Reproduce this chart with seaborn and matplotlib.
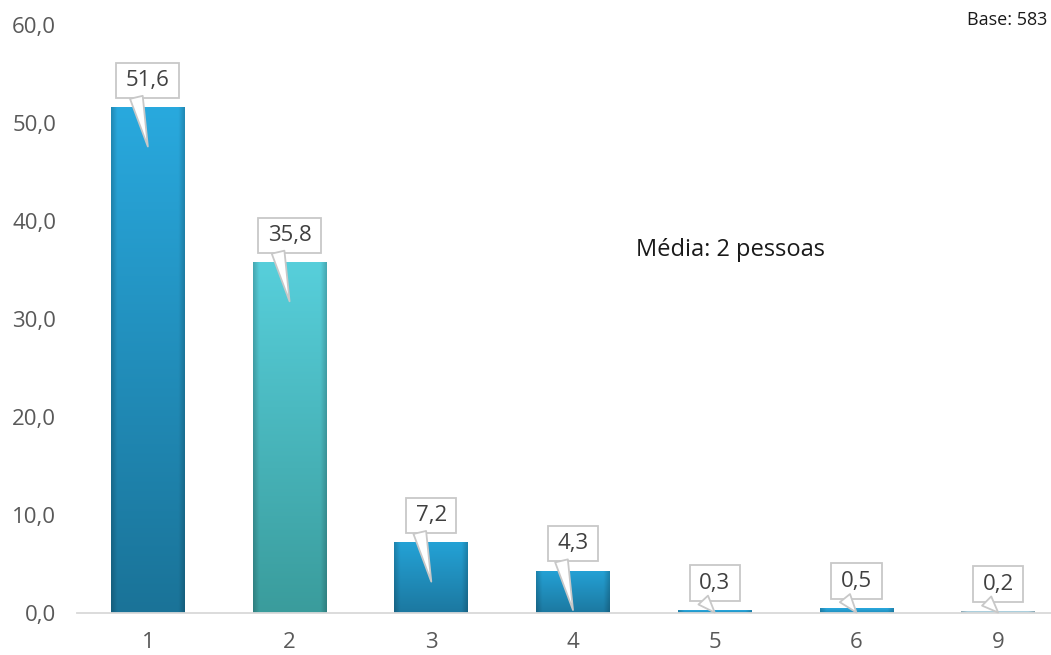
import numpy as np
import pandas as pd
import matplotlib
matplotlib.use("Agg")
import matplotlib.pyplot as plt
import matplotlib.transforms as mtransforms
from matplotlib.colors import to_rgb
from matplotlib.path import Path
import seaborn as sns

# ── data ──────────────────────────────────────────────────────────────────────
categories = ["1", "2", "3", "4", "5", "6", "9"]
values     = [51.6, 35.8, 7.2, 4.3, 0.3, 0.5, 0.2]
top_colors    = ["#29A9DE", "#57CFDB", "#24A2D6", "#24A2D6", "#2AA8DE", "#2AA8DE", "#B2D5E3"]
bottom_colors = ["#1A7398", "#3A9C9C", "#1C78A0", "#1C78A0", "#1F8DBB", "#1F8DBB", "#9FC3D2"]
yticks = [0, 10, 20, 30, 40, 50, 60]

sns.set_theme(style="white")
plt.rcParams["font.family"] = ["Open Sans", "DejaVu Sans"]

fig = plt.figure(figsize=(10.51, 6.55), dpi=100)
ax = fig.add_axes([77 / 1051, 1 - 613 / 655, 992 / 1051, 588 / 655])

df = pd.DataFrame({"cat": categories, "val": values})
sns.barplot(data=df, x="cat", y="val", hue="cat", palette=top_colors,
            width=0.52, legend=False, ax=ax, zorder=2)


def bar_shading(c_top, c_bot, n=200, m=60):
    # vertical gradient, darker towards the side edges (bevel look)
    t = np.linspace(0, 1, n)[:, None, None]
    rgb = np.array(to_rgb(c_bot)) * (1 - t) + np.array(to_rgb(c_top)) * t
    u = np.linspace(0, 1, m)
    edge = np.minimum(u, 1 - u)
    side = 0.82 + 0.18 * np.clip(edge / 0.08, 0, 1)
    rgb = rgb * side[None, :, None]
    return np.clip(rgb, 0, 1)


for patch, c_top, c_bot in zip(ax.patches, top_colors, bottom_colors):
    x0, y0 = patch.get_x(), patch.get_y()
    w, h = patch.get_width(), patch.get_height()
    im = ax.imshow(bar_shading(c_top, c_bot), extent=[x0, x0 + w, y0, y0 + h],
                   origin="lower", aspect="auto", zorder=3, interpolation="bilinear")
    im.set_clip_path(patch)
    patch.set_edgecolor("none")

ax.set_xlim(-0.5, 6.5)
ax.set_ylim(0, 60)
ax.set_yticks(yticks)
ax.set_yticklabels([f"{v:.1f}".replace(".", ",") for v in yticks])
ax.set_xlabel("")
ax.set_ylabel("")

for s in ["top", "right", "left"]:
    ax.spines[s].set_visible(False)
ax.spines["bottom"].set_color("#D9D9D9")
ax.spines["bottom"].set_linewidth(1.3)
ax.spines["bottom"].set_zorder(4)
ax.set_xticks(np.arange(-0.5, 7, 1), minor=True)
ax.tick_params(axis="x", which="minor", length=6, color="#D9D9D9", width=1.3, direction="out")
ax.tick_params(axis="x", which="major", length=0, pad=14, labelsize=16, labelcolor="#595959")
ax.tick_params(axis="y", length=0, pad=15, labelsize=16, labelcolor="#595959")


def callout_box(x0, y0, width, height, mutation_size):
    padx = 0.43 * mutation_size
    pady = 0.32 * mutation_size
    x0, y0 = x0 - padx, y0 - pady
    x1, y1 = x0 + width + 2 * padx, y0 + height + 2 * pady
    return Path([(x0, y0), (x1, y0), (x1, y1), (x0, y1), (x0, y0)], closed=True)


# callout labels
for i, v in enumerate(values):
    label = f"{v:.1f}".replace(".", ",")
    box_tr = ax.transData + mtransforms.ScaledTranslation(0, 0.27, fig.dpi_scale_trans)
    base_tr = ax.transData + mtransforms.ScaledTranslation(-0.115, 0.10, fig.dpi_scale_trans)
    tip = max(v - 4.0, 0.05)
    ax.text(i, v, label, transform=box_tr, ha="center", va="center",
            fontsize=16, color="#404040", zorder=5,
            bbox=dict(boxstyle=callout_box, fc="white", ec="#C8C8C8", lw=1.3))
    ax.annotate("", xy=(i, tip), xycoords="data",
                xytext=(i, v), textcoords=base_tr,
                arrowprops=dict(arrowstyle="wedge,tail_width=0.67,shrink_factor=0.5",
                                fc="white", ec="#C8C8C8", lw=1.3, mutation_scale=14,
                                shrinkA=0, shrinkB=0),
                zorder=6)

fig.text(636 / 1051, 1 - 250 / 655, "Média: 2 pessoas", fontsize=17, color="#1A1A1A",
         ha="left", va="center")
fig.text(1047 / 1051, 1 - 20 / 655, "Base: 583", fontsize=13, color="#1A1A1A",
         ha="right", va="center")

fig.savefig("out.png", dpi=100)
